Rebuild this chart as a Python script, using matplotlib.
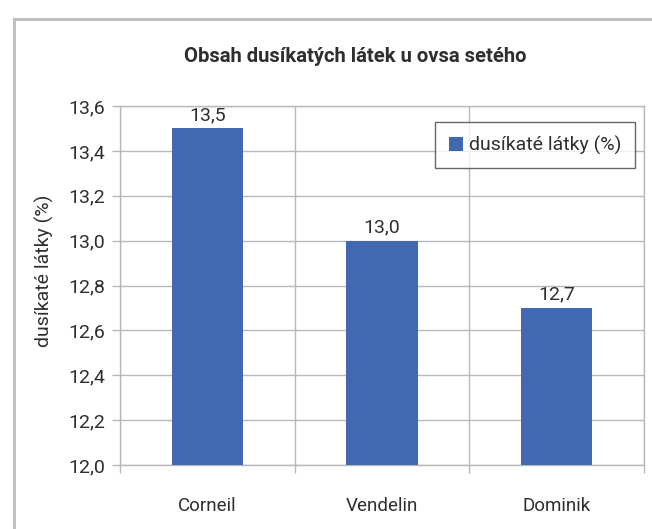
import numpy as np
import matplotlib
matplotlib.use('Agg')
import matplotlib.pyplot as plt
from matplotlib.patches import Rectangle
from matplotlib.ticker import FixedLocator, FuncFormatter

# data
odrudy = ['Corneil', 'Vendelin', 'Dominik']
dusik = [13.5, 13.0, 12.7]
popisky = ['13,5', '13,0', '12,7']
y_ticks = [12.0, 12.2, 12.4, 12.6, 12.8, 13.0, 13.2, 13.4, 13.6]

plt.rcParams['font.family'] = ['Roboto', 'DejaVu Sans']

bar_color = '#4169B1'
grid_color = '#b8b8b8'
text_color = '#2e2e2e'

fig = plt.figure(figsize=[6.52, 5.29], dpi=100)
fig.patch.set_facecolor('white')

# outer chart frame (cut off at right and bottom)
frame = Rectangle((14 / 652, -0.05), 1.2, 1 - 19 / 529 + 0.05,
                  transform=fig.transFigure, fill=False,
                  edgecolor='#c0c0c0', linewidth=2.2)
fig.patches.append(frame)

ax = fig.add_axes([120 / 652, 1 - 465 / 529, (644 - 120) / 652, (465 - 106) / 529])

x = np.arange(len(odrudy))
bars = ax.bar(x, dusik, width=0.41, color=bar_color, zorder=3,
              label='dusíkaté látky (%)')

ax.set_ylim(12.0, 13.6)
ax.set_xlim(-0.5, len(odrudy) - 0.5)
ax.set_yticks(y_ticks)
ax.yaxis.set_major_formatter(FuncFormatter(lambda v, p: f'{v:.1f}'.replace('.', ',')))

ax.set_xticks(x)
ax.set_xticklabels(odrudy)
ax.xaxis.set_minor_locator(FixedLocator(np.arange(-0.5, len(odrudy), 1)))
ax.tick_params(axis='x', which='major', length=0, pad=23, labelsize=13.5, colors=text_color)
ax.tick_params(axis='x', which='minor', length=6, width=1, color=grid_color, direction='out')
ax.tick_params(axis='y', length=6, width=1, color=grid_color, pad=5, labelsize=14,
               labelcolor=text_color)

ax.grid(axis='y', color=grid_color, linewidth=1, zorder=0)
ax.grid(axis='x', which='minor', color=grid_color, linewidth=1, zorder=0)
for s in ax.spines.values():
    s.set_color(grid_color)
    s.set_linewidth(1)

for b, t in zip(bars, popisky):
    ax.annotate(t, (b.get_x() + b.get_width() / 2, b.get_height()),
                xytext=(0, 3), textcoords='offset points', ha='center', va='bottom',
                fontsize=14, color=text_color)

ax.set_ylabel('dusíkaté látky (%)', fontsize=14, color=text_color)
ax.yaxis.set_label_coords(-0.126, 0.54)

fig.text(355 / 652, 1 - 57 / 529, 'Obsah dusíkatých látek u ovsa setého',
         ha='center', va='center', fontsize=14.6, fontweight='bold', color=text_color)

leg = ax.legend(loc='upper left', bbox_to_anchor=((435 - 120) / 524, 1 - (122 - 106) / 359),
                frameon=True, fancybox=False, fontsize=14, handlelength=0.75,
                handleheight=0.75, handletextpad=0.3, borderpad=0.7, borderaxespad=0)
leg.get_frame().set_edgecolor('#404040')
leg.get_frame().set_linewidth(1)
for t in leg.get_texts():
    t.set_color(text_color)

fig.savefig('out.png', dpi=100)
